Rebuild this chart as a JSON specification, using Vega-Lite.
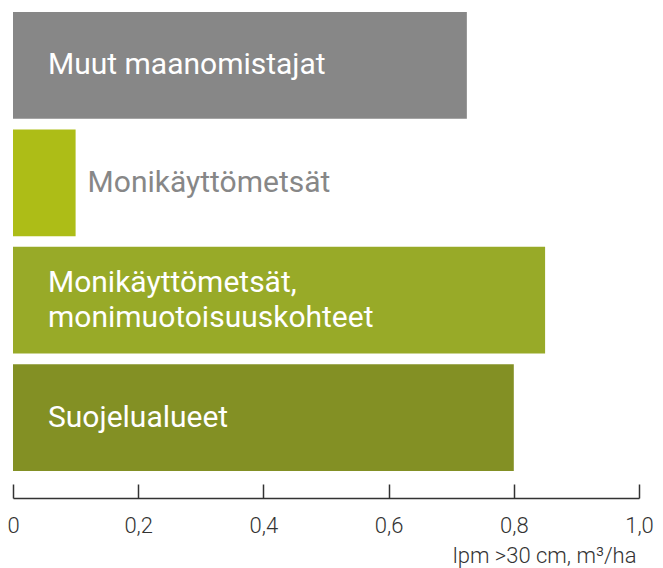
{
  "$schema": "https://vega.github.io/schema/vega-lite/v6.json",
  "width": 626,
  "height": 459,
  "autosize": {"type": "none"},
  "padding": {"left": 13, "top": 12, "right": 24, "bottom": 97},
  "background": "white",
  "config": {
    "view": {"stroke": null},
    "font": "Roboto",
    "axisX": {
      "offset": 27,
      "grid": false,
      "domainColor": "#333333",
      "domainWidth": 1.5,
      "tickColor": "#333333",
      "tickWidth": 1.5,
      "tickSize": -14,
      "labelPadding": 31,
      "labelFontSize": 22,
      "labelColor": "#333333",
      "labelFont": "Roboto",
      "labelFontWeight": 300,
      "labelFlush": false,
      "titleFont": "Roboto",
      "titleFontWeight": 300,
      "titleFontSize": 22,
      "titleColor": "#333333",
      "titleAnchor": "end",
      "titleAlign": "right",
      "titlePadding": 9,
      "titleX": 623
    }
  },
  "data": {
    "values": [
      {"cat": "Muut maanomistajat", "label": ["Muut maanomistajat"], "value": 0.725, "color": "#878787"},
      {"cat": "Monikäyttömetsät", "label": ["Monikäyttömetsät"], "value": 0.1, "color": "#adbd17"},
      {"cat": "Monikäyttömetsät, monimuotoisuuskohteet", "label": ["Monikäyttömetsät,", "monimuotoisuuskohteet"], "value": 0.85, "color": "#98aa28"},
      {"cat": "Suojelualueet", "label": ["Suojelualueet"], "value": 0.8, "color": "#839024"}
    ]
  },
  "encoding": {
    "y": {
      "field": "cat", "type": "nominal", "sort": null, "axis": null,
      "scale": {"paddingInner": 0.09, "paddingOuter": 0}
    }
  },
  "layer": [
    {
      "mark": {"type": "bar"},
      "encoding": {
        "x": {
          "field": "value", "type": "quantitative",
          "scale": {"domain": [0, 1], "nice": false},
          "axis": {
            "values": [0, 0.2, 0.4, 0.6, 0.8, 1.0],
            "labelExpr": "datum.value == 0 ? '0' : replace(format(datum.value, '.1f'), '.', ',')",
            "title": "lpm >30 cm, m³/ha"
          }
        },
        "color": {"field": "color", "type": "nominal", "scale": null}
      }
    },
    {
      "transform": [{"filter": "datum.value > 0.3 && length(datum.label) == 1"}],
      "mark": {"type": "text", "align": "left", "baseline": "middle", "dx": 35, "fontSize": 30, "font": "Roboto", "fontWeight": 400, "color": "white"},
      "encoding": {
        "x": {"datum": 0, "type": "quantitative"},
        "text": {"field": "label"}
      }
    },
    {
      "transform": [{"filter": "datum.value > 0.3 && length(datum.label) > 1"}],
      "mark": {"type": "text", "align": "left", "baseline": "middle", "dx": 35, "dy": -17, "fontSize": 30, "font": "Roboto", "fontWeight": 400, "color": "white", "lineHeight": 35},
      "encoding": {
        "x": {"datum": 0, "type": "quantitative"},
        "text": {"field": "label"}
      }
    },
    {
      "transform": [{"filter": "datum.value <= 0.3"}],
      "mark": {"type": "text", "align": "left", "baseline": "middle", "dx": 12, "fontSize": 30, "font": "Roboto", "fontWeight": 400, "color": "#878787"},
      "encoding": {
        "x": {"field": "value", "type": "quantitative"},
        "text": {"field": "label"}
      }
    }
  ]
}
